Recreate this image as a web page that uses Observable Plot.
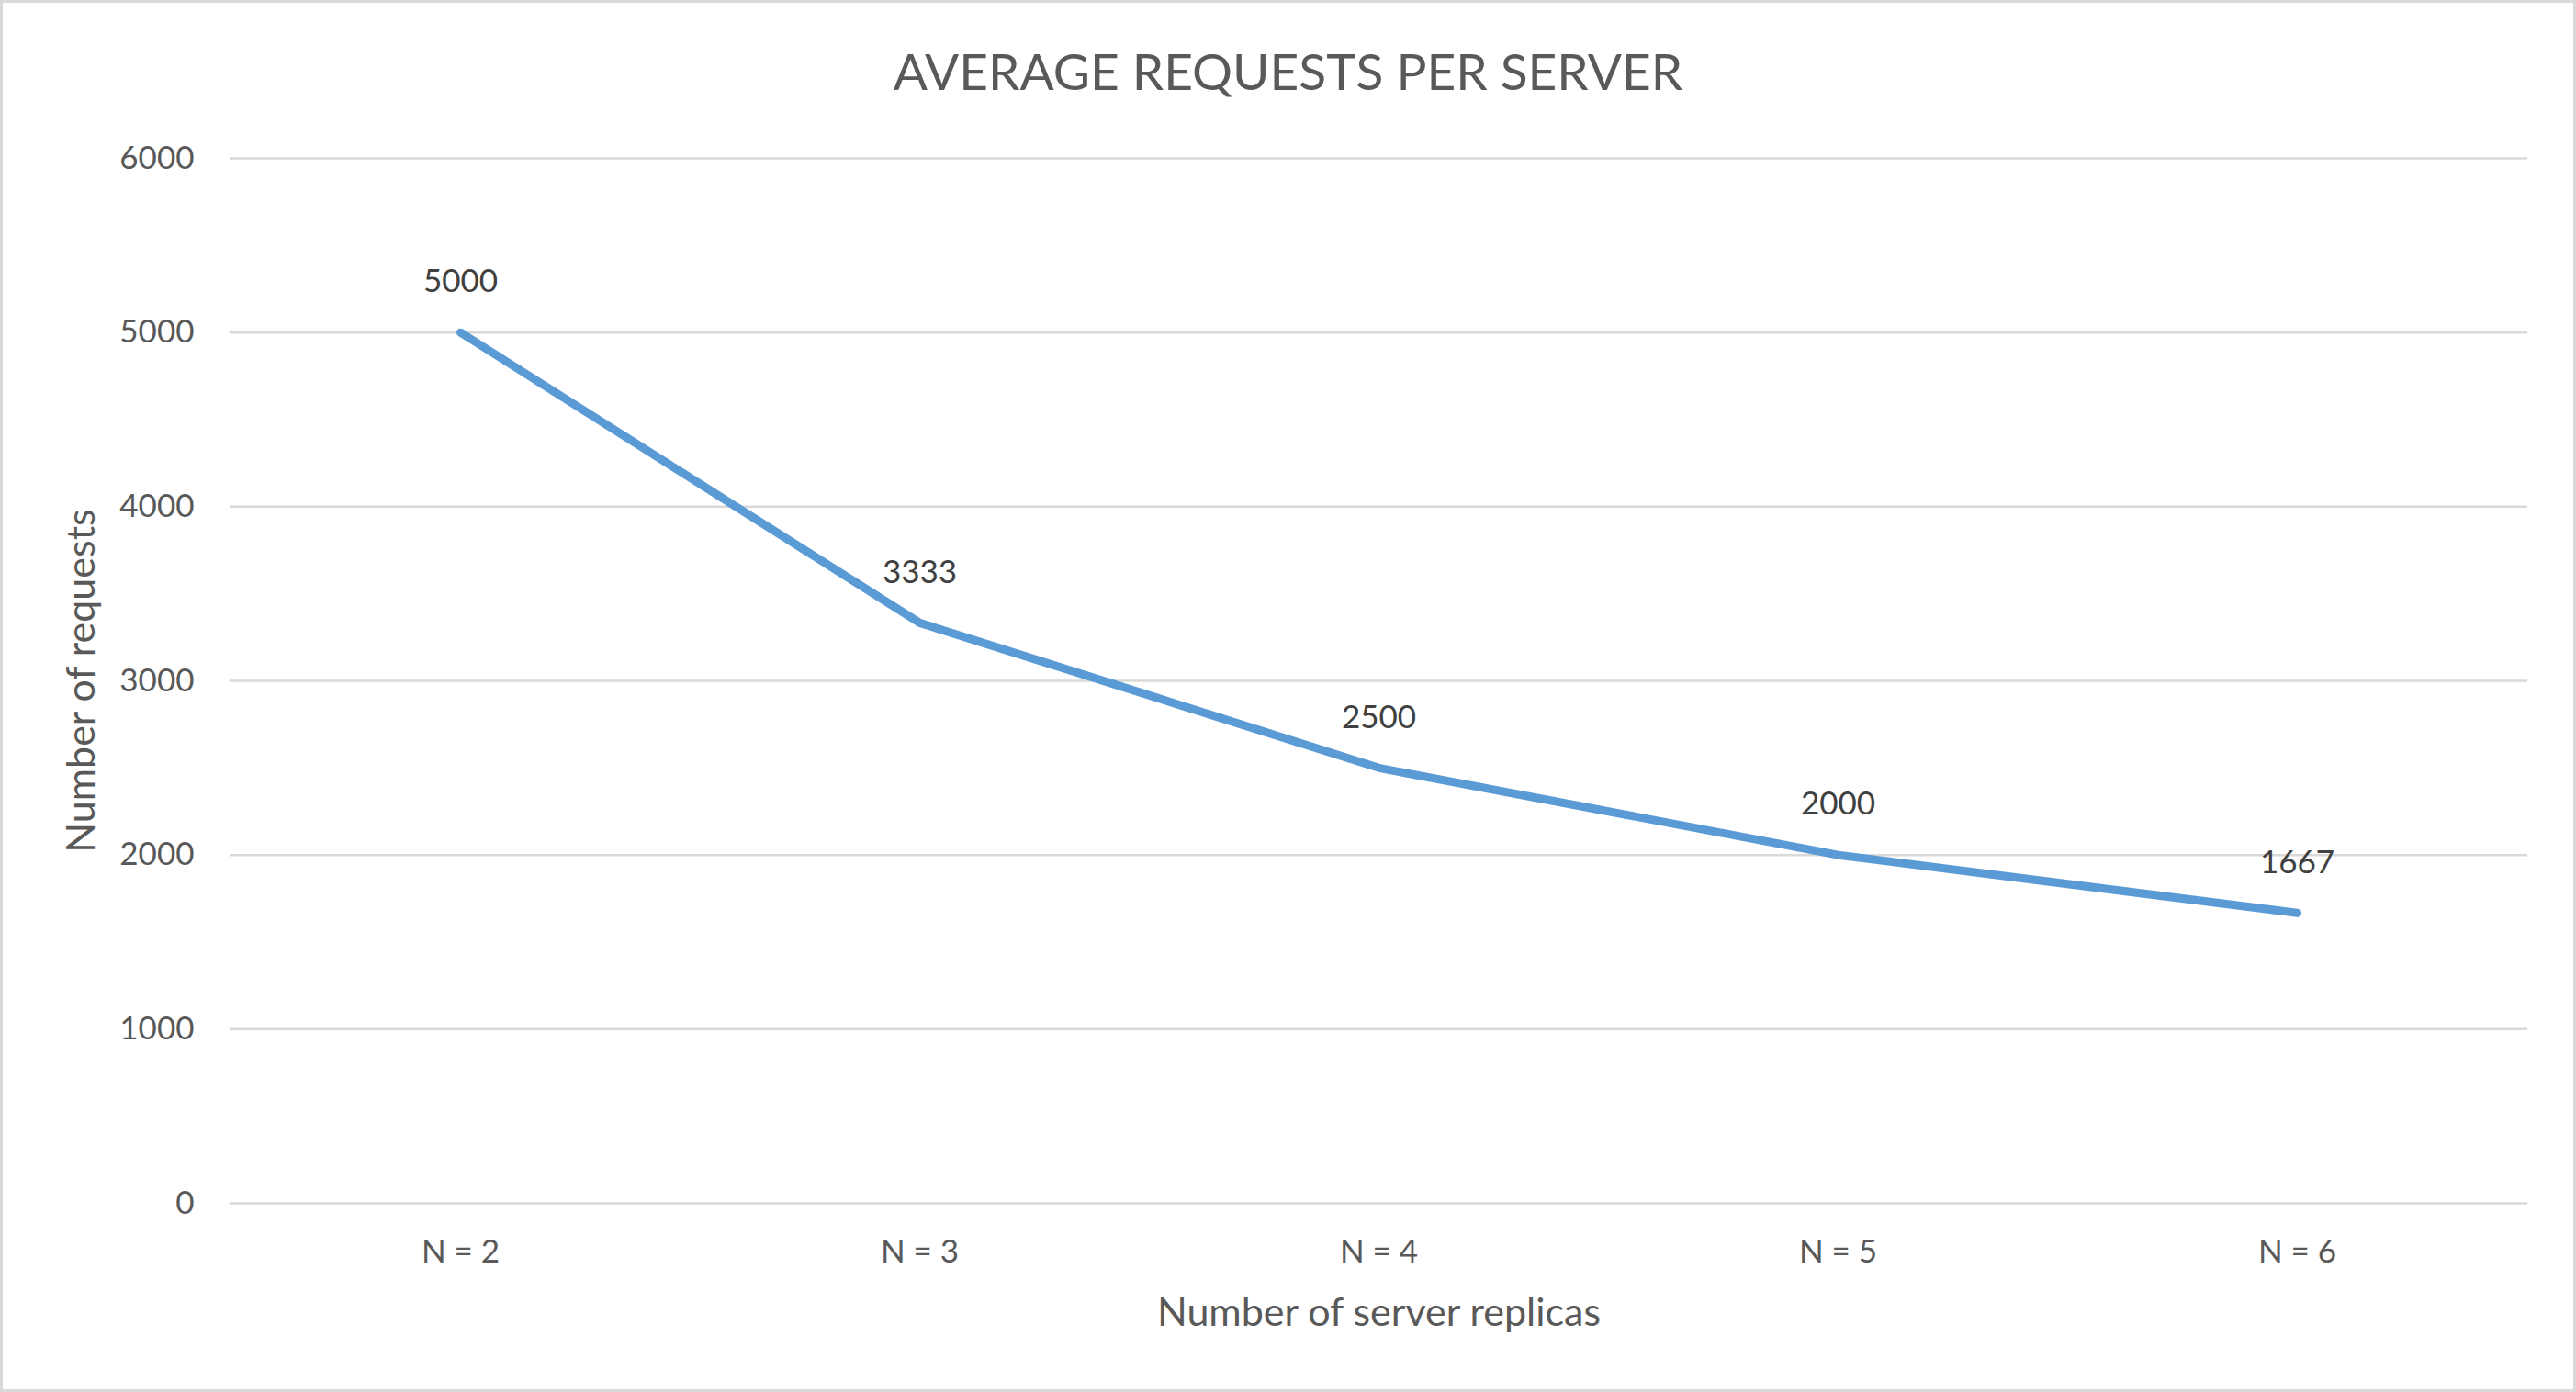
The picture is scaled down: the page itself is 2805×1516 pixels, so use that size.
<!DOCTYPE html>
<html>
<head>
<meta charset="utf-8">
<script src="https://cdn.jsdelivr.net/npm/d3@7"></script>
<script src="https://cdn.jsdelivr.net/npm/@observablehq/plot@0.6"></script>
<style>
  html, body { margin: 0; padding: 0; background: #ffffff; }
  #wrap { position: relative; width: 2805px; height: 1516px; overflow: hidden; background: #fff; }
  #title { position: absolute; left: 0; top: 0; width: 2805px; height: 154px; line-height: 154px;
           text-align: center; font-family: Lato, "Open Sans", sans-serif; font-weight: 400;
           font-size: 55px; color: #595959; white-space: nowrap; }
  #chart { position: absolute; left: 0; top: 130px; }
  #frame { position: absolute; left: 0; top: 0; width: 2805px; height: 1516px; box-sizing: border-box;
           border: 3px solid #d9d9d9; pointer-events: none; }
</style>
</head>
<body>
<div id="wrap">
  <div id="title"></div>
  <div id="chart"></div>
  <div id="frame"></div>
</div>
<script>
const chartTitle = "AVERAGE REQUESTS PER SERVER";
const xLabel = "Number of server replicas";
const yLabel = "Number of requests";
const categories = ["N = 2", "N = 3", "N = 4", "N = 5", "N = 6"];
const requests = [5000, 3333, 2500, 2000, 1667];
const yTicks = [0, 1000, 2000, 3000, 4000, 5000, 6000];

const data = categories.map((c, i) => ({n: c, v: requests[i]}));

document.getElementById("title").textContent = chartTitle;

const W = 2805, H = 1386;
const chart = Plot.plot({
  width: W,
  height: H,
  marginTop: 42,
  marginBottom: 206,
  marginLeft: 250,
  marginRight: 53,
  style: {fontFamily: "Lato, 'Open Sans', sans-serif", fontSize: "35px", color: "#595959", background: "transparent"},
  x: {type: "point", domain: categories, padding: 0.5, label: null},
  y: {domain: [0, 6000], label: null},
  marks: [
    Plot.gridY(yTicks, {stroke: "#d9d9d9", strokeOpacity: 1, strokeWidth: 2.5}),
    Plot.axisY(yTicks, {tickSize: 0, tickPadding: 39, label: null, fill: "#595959", fontSize: 35, tickFormat: d => String(d)}),
    Plot.axisX({tickSize: 0, tickPadding: 40, label: null, fill: "#595959", fontSize: 35}),
    Plot.line(data, {x: "n", y: "v", stroke: "#5b9bd5", strokeWidth: 9, strokeLinecap: "round", strokeLinejoin: "round"}),
    Plot.text(data, {x: "n", y: "v", text: d => String(d.v), dy: -55, fill: "#404040", fontSize: 35}),
    Plot.text([xLabel], {text: d => d, frameAnchor: "bottom", textAnchor: "middle", lineAnchor: "middle", dy: 120, fill: "#595959", fontSize: 43}),
    Plot.text([yLabel], {text: d => d, frameAnchor: "left", textAnchor: "middle", lineAnchor: "middle", dx: -161, rotate: -90, fill: "#595959", fontSize: 43})
  ]
});
document.getElementById("chart").appendChild(chart);
</script>
</body>
</html>
